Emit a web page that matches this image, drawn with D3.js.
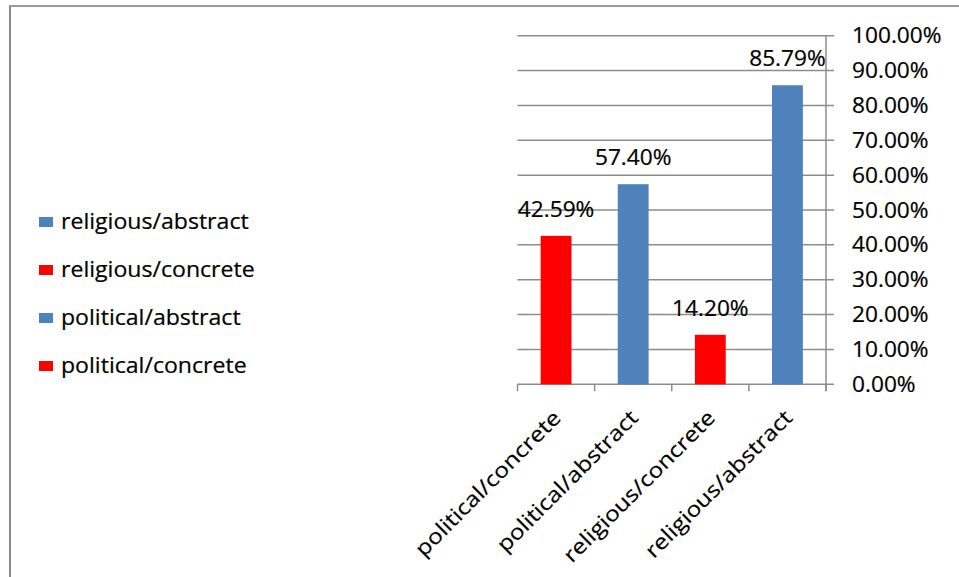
<!DOCTYPE html>
<html>
<head>
<meta charset="utf-8">
<script src="https://cdn.jsdelivr.net/npm/d3@7"></script>
<style>
  body { margin: 0; background: #fff; }
  svg text { font-family: "Open Sans", Lato, sans-serif; fill: #000; stroke: #000; stroke-width: 0.2px; }
</style>
</head>
<body>
<div id="chart"></div>
<script>
// chart values
var categories = ["political/concrete", "political/abstract", "religious/concrete", "religious/abstract"];
var shares = [0.4259, 0.5740, 0.1420, 0.8579];
var barColors = ["#FF0000", "#4F81BD", "#FF0000", "#4F81BD"];
var tickValues = [0, 0.1, 0.2, 0.3, 0.4, 0.5, 0.6, 0.7, 0.8, 0.9, 1.0];

var width = 959, height = 577;
var SX = 1.08;     // horizontal stretch of numbers
var SXW = 1.1;     // horizontal stretch of words
var fontSize = 21;

var svg = d3.select("#chart").append("svg")
  .attr("width", width)
  .attr("height", height);

// outer frame (top and left edges visible)
svg.append("line")
  .attr("x1", 9).attr("x2", width).attr("y1", 6).attr("y2", 6)
  .attr("stroke", "#9a9a9a").attr("stroke-width", 2);
svg.append("line")
  .attr("x1", 10).attr("x2", 10).attr("y1", 6).attr("y2", height)
  .attr("stroke", "#8a8a8a").attr("stroke-width", 2);

var x = d3.scaleBand()
  .domain(categories)
  .range([517.5, 826])
  .paddingInner(0.6)
  .paddingOuter(0.3);

var y = d3.scaleLinear()
  .domain([0, 1])
  .range([384.3, 35.7]);

var fmt = d3.format(".2%");

// gridlines + right ticks
svg.selectAll(".grid")
  .data(tickValues)
  .enter().append("line")
  .attr("class", "grid")
  .attr("x1", 517.5).attr("x2", 834)
  .attr("y1", function(d) { return y(d); })
  .attr("y2", function(d) { return y(d); })
  .attr("stroke", "#8c8c8c").attr("stroke-width", 1.5);

// right axis line
svg.append("line")
  .attr("x1", 826).attr("x2", 826)
  .attr("y1", y(1)).attr("y2", y(0) + 7)
  .attr("stroke", "#8c8c8c").attr("stroke-width", 1.5);

// category boundary ticks
var step = x.step();
var bounds = d3.range(categories.length + 1).map(function(i) { return x.range()[0] + i * step; });
svg.selectAll(".xtick")
  .data(bounds)
  .enter().append("line")
  .attr("class", "xtick")
  .attr("x1", function(d) { return d; }).attr("x2", function(d) { return d; })
  .attr("y1", y(0)).attr("y2", y(0) + 7)
  .attr("stroke", "#8c8c8c").attr("stroke-width", 1.5);

// y tick labels
svg.selectAll(".ylab")
  .data(tickValues)
  .enter().append("text")
  .attr("class", "ylab")
  .attr("transform", function(d) { return "translate(852," + (y(d) + 7.5) + ") scale(" + SX + ",1)"; })
  .style("font-size", fontSize + "px")
  .text(function(d) { return fmt(d); });

// bars
svg.selectAll(".bar")
  .data(shares)
  .enter().append("rect")
  .attr("class", "bar")
  .attr("x", function(d, i) { return x(categories[i]); })
  .attr("width", x.bandwidth())
  .attr("y", function(d) { return y(d); })
  .attr("height", function(d) { return y(0) - y(d); })
  .attr("fill", function(d, i) { return barColors[i]; });

// value labels
svg.selectAll(".vlab")
  .data(shares)
  .enter().append("text")
  .attr("class", "vlab")
  .attr("text-anchor", "middle")
  .attr("transform", function(d, i) {
    return "translate(" + (x(categories[i]) + x.bandwidth() / 2) + "," + (y(d) - 19) + ") scale(" + SX + ",1)";
  })
  .style("font-size", fontSize + "px")
  .text(function(d) { return fmt(d); });

// category labels, rotated
svg.selectAll(".xlab")
  .data(categories)
  .enter().append("text")
  .attr("class", "xlab")
  .attr("text-anchor", "end")
  .attr("dy", "0.35em")
  .attr("transform", function(d) {
    return "translate(" + (x(d) + x.bandwidth() / 2 + 1) + ",414) rotate(-45) scale(1.16,1)";
  })
  .style("font-size", fontSize + "px")
  .text(function(d) { return d; });

// legend (reverse order)
var legendItems = categories.map(function(c, i) { return { name: c, color: barColors[i] }; }).reverse();
var legend = svg.selectAll(".legend")
  .data(legendItems)
  .enter().append("g")
  .attr("class", "legend")
  .attr("transform", function(d, i) { return "translate(39," + (222 + i * 48) + ")"; });

legend.append("rect")
  .attr("x", 0).attr("y", -5)
  .attr("width", 14).attr("height", 10)
  .attr("fill", function(d) { return d.color; });

legend.append("text")
  .attr("transform", "translate(22,7) scale(" + SXW + ",1)")
  .style("font-size", fontSize + "px")
  .text(function(d) { return d.name; });
</script>
</body>
</html>
